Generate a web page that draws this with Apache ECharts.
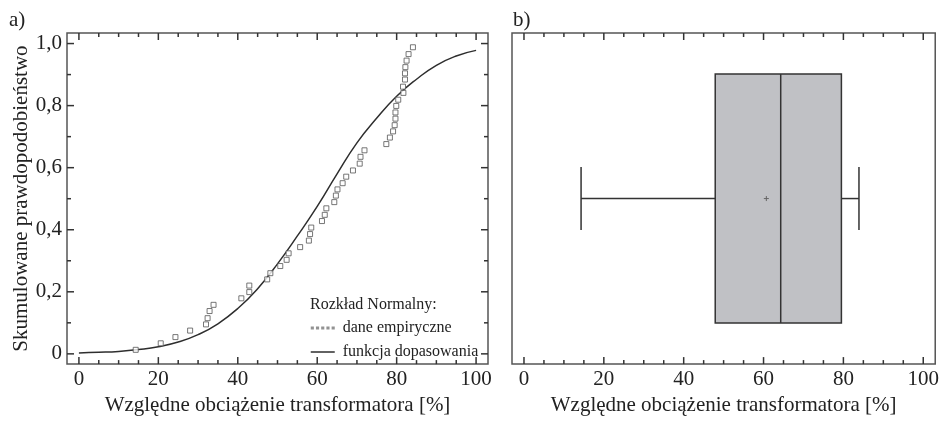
<!DOCTYPE html>
<html>
<head>
<meta charset="utf-8">
<script src="https://cdn.jsdelivr.net/npm/echarts@6/dist/echarts.min.js"></script>
<style>
html,body{margin:0;padding:0;background:#fff;}
#c{width:942px;height:421px;background:#fff;}
</style>
</head>
<body>
<div id="c"></div>
<script>
// ---- data ----
var empX = [14.3,20.6,24.3,28.0,32.0,32.4,32.9,33.9,40.9,42.9,42.9,47.4,48.2,50.7,52.3,52.8,55.7,57.9,58.2,58.5,61.2,61.9,62.3,64.3,64.7,65.1,66.4,67.3,69.0,70.7,70.9,71.9,77.4,78.3,79.1,79.5,79.7,79.7,79.9,80.4,81.7,81.6,82.1,82.1,82.2,82.5,83.0,84.1];
var empY = [0.013,0.034,0.054,0.075,0.095,0.115,0.138,0.158,0.179,0.199,0.220,0.240,0.260,0.283,0.303,0.324,0.344,0.365,0.386,0.407,0.428,0.448,0.469,0.489,0.510,0.530,0.550,0.571,0.591,0.613,0.635,0.656,0.676,0.697,0.717,0.737,0.758,0.778,0.799,0.819,0.841,0.861,0.884,0.904,0.924,0.945,0.966,0.988];
var fitX = [0,5,10,15,20,25,30,35,40,45,50,55,60,65,70,75,80,85,90,95,100];
var fitY = [0.003,0.005,0.008,0.014,0.023,0.038,0.062,0.097,0.146,0.21,0.29,0.38,0.475,0.58,0.68,0.76,0.83,0.885,0.93,0.96,0.978];
// box plot: lower whisker, Q1, median, Q3, upper whisker, mean
var boxStats = [14.3, 47.9, 64.3, 79.5, 83.9, 60.7];

var xMajor = [0,20,40,60,80,100];
var xMinor = [5,10,15,25,30,35,45,50,55,65,70,75,85,90,95];
var yMajor = [0,0.2,0.4,0.6,0.8,1.0];
var yMinor = [0.1,0.3,0.5,0.7,0.9];
var yLabels = ['0','0,2','0,4','0,6','0,8','1,0'];

var seriesNames = ['dane empiryczne','funkcja dopasowania'];
var legendTitle = 'Rozkład Normalny:';
var xTitle = 'Względne obciążenie transformatora [%]';
var yTitle = 'Skumulowane prawdopodobieństwo';
var panelLabels = ['a)','b)'];

// ---- chart ----
var FONT = 'Liberation Serif';
var TXT = '#222';
var LINE = '#333333';
var XMIN = -3, XMAX = 103, YMIN = -0.033, YMAX = 1.034;

function xAxis(grid) {
  return {
    type:'value', gridIndex:grid, position:'bottom', min:XMIN, max:XMAX,
    axisLine:{show:false, onZero:false}, splitLine:{show:false}, axisTick:{show:false},
    axisLabel:{show:true, customValues:xMajor, fontFamily:FONT, fontSize:21, color:TXT, margin:5},
    name:xTitle, nameLocation:'middle', nameGap:19,
    nameTextStyle:{fontFamily:FONT, fontSize:21, color:TXT, verticalAlign:'top'}
  };
}

// tick marks placed through the axes' scales: [x, y, kind] kind 0=x major,1=x minor,2=y major,3=y minor
function tickData(withY, yMid) {
  var d = [];
  xMajor.forEach(function(v){ d.push([v, yMid, 0]); });
  xMinor.forEach(function(v){ d.push([v, yMid, 1]); });
  if (withY) {
    yMajor.forEach(function(v){ d.push([50, v, 2]); });
    yMinor.forEach(function(v){ d.push([50, v, 3]); });
  }
  return d;
}
function tickRender(params, api) {
  var cs = params.coordSys;
  var k = api.value(2);
  var p = api.coord([api.value(0), api.value(1)]);
  var len = (k === 0 || k === 2) ? 7 : 4;
  var st = {stroke:LINE, lineWidth:1.5, fill:null};
  if (k < 2) {
    var b = cs.y + cs.height, t = cs.y;
    return {type:'group', children:[
      {type:'line', z2:100, shape:{x1:p[0], y1:b, x2:p[0], y2:b-len}, style:st},
      {type:'line', z2:100, shape:{x1:p[0], y1:t, x2:p[0], y2:t+len}, style:st}
    ]};
  }
  var l = cs.x, r = cs.x + cs.width;
  return {type:'group', children:[
    {type:'line', z2:100, shape:{x1:l, y1:p[1], x2:l+len, y2:p[1]}, style:st},
    {type:'line', z2:100, shape:{x1:r, y1:p[1], x2:r-len, y2:p[1]}, style:st}
  ]};
}

var chart = echarts.init(document.getElementById('c'), null, {renderer:'canvas'});
chart.setOption({
  animation:false,
  grid:[
    {left:67, top:33, width:421, height:348, show:true, borderColor:'#555', borderWidth:1.5, z:0},
    {left:512, top:33, width:425, height:348, show:true, borderColor:'#555', borderWidth:1.5, z:0}
  ],
  xAxis:[xAxis(0), xAxis(1)],
  yAxis:[
    {
      type:'value', gridIndex:0, position:'left', min:YMIN, max:YMAX,
      axisLine:{show:false, onZero:false}, splitLine:{show:false}, axisTick:{show:false},
      axisLabel:{show:true, customValues:yMajor, fontFamily:FONT, fontSize:21, color:TXT, margin:5,
        formatter:function(v){ var i = yMajor.indexOf(Math.round(v*10)/10); return i>=0 ? yLabels[i] : ''; }},
      name:yTitle, nameLocation:'middle', nameGap:35,
      nameTextStyle:{fontFamily:FONT, fontSize:21, color:TXT}
    },
    {type:'value', gridIndex:1, min:0, max:1, show:false, axisLine:{onZero:false}}
  ],
  legend:{
    show:true, orient:'vertical', left:310, top:320, itemGap:8, padding:0,
    itemWidth:24, itemHeight:4,
    textStyle:{fontFamily:FONT, fontSize:16, color:TXT, padding:[0,0,0,3]},
    data:[
      {name:seriesNames[0], icon:'path://M0,0h3v3h-3zM5,0h3v3h-3zM10,0h3v3h-3zM15,0h3v3h-3zM20,0h3v3h-3z', itemStyle:{color:'#777', borderWidth:0}},
      {name:seriesNames[1], itemStyle:{opacity:0}, lineStyle:{color:'#2e2e2e', width:1.5}}
    ]
  },
  graphic:[
    {type:'text', left:310, top:297, style:{text:legendTitle, font:'16px "Liberation Serif"', fill:TXT}},
    {type:'text', left:9, top:10, style:{text:panelLabels[0], font:'21px "Liberation Serif"', fill:TXT}},
    {type:'text', left:513, top:10, style:{text:panelLabels[1], font:'21px "Liberation Serif"', fill:TXT}}
  ],
  series:[
    {
      type:'custom', xAxisIndex:0, yAxisIndex:0, silent:true, z:10, clip:false,
      data:tickData(true, 0.5), renderItem:tickRender
    },
    {
      type:'custom', xAxisIndex:1, yAxisIndex:1, silent:true, z:10, clip:false,
      data:tickData(false, 0.5), renderItem:tickRender
    },
    {
      name:seriesNames[0], type:'scatter', xAxisIndex:0, yAxisIndex:0,
      symbol:'rect', symbolSize:5,
      itemStyle:{color:'#fff', borderColor:'#555', borderWidth:1},
      data: empX.map(function(x,i){ return [x, empY[i]]; }),
      z:3
    },
    {
      name:seriesNames[1], type:'line', xAxisIndex:0, yAxisIndex:0,
      smooth:true, symbol:'none',
      lineStyle:{color:'#2e2e2e', width:1.5},
      itemStyle:{color:'#2e2e2e'},
      data: fitX.map(function(x,i){ return [x, fitY[i]]; }),
      z:2
    },
    {
      type:'custom', xAxisIndex:1, yAxisIndex:1,
      data:[boxStats],
      renderItem:function(params, api){
        var cs = params.coordSys;
        var yc = api.coord([0,0.5])[1];
        var bh = cs.height*0.376, wh = cs.height*0.095;
        var xl = api.coord([api.value(0),0.5])[0];
        var x1 = api.coord([api.value(1),0.5])[0];
        var xm = api.coord([api.value(2),0.5])[0];
        var x3 = api.coord([api.value(3),0.5])[0];
        var xh = api.coord([api.value(4),0.5])[0];
        var xmean = api.coord([api.value(5),0.5])[0];
        var ls = {stroke:LINE, lineWidth:1.5};
        return {type:'group', children:[
          {type:'line', shape:{x1:xl,y1:yc,x2:x1,y2:yc}, style:ls},
          {type:'line', shape:{x1:x3,y1:yc,x2:xh,y2:yc}, style:ls},
          {type:'line', shape:{x1:xl,y1:yc-wh,x2:xl,y2:yc+wh}, style:ls},
          {type:'line', shape:{x1:xh,y1:yc-wh,x2:xh,y2:yc+wh}, style:ls},
          {type:'rect', shape:{x:x1,y:yc-bh,width:x3-x1,height:2*bh}, style:{fill:'#c0c1c5', stroke:LINE, lineWidth:1.5}},
          {type:'line', shape:{x1:xm,y1:yc-bh,x2:xm,y2:yc+bh}, style:ls},
          {type:'line', shape:{x1:xmean-2.5,y1:yc,x2:xmean+2.5,y2:yc}, style:{stroke:'#666',lineWidth:1}},
          {type:'line', shape:{x1:xmean,y1:yc-2.5,x2:xmean,y2:yc+2.5}, style:{stroke:'#666',lineWidth:1}}
        ]};
      }
    }
  ]
});
</script>
</body>
</html>
